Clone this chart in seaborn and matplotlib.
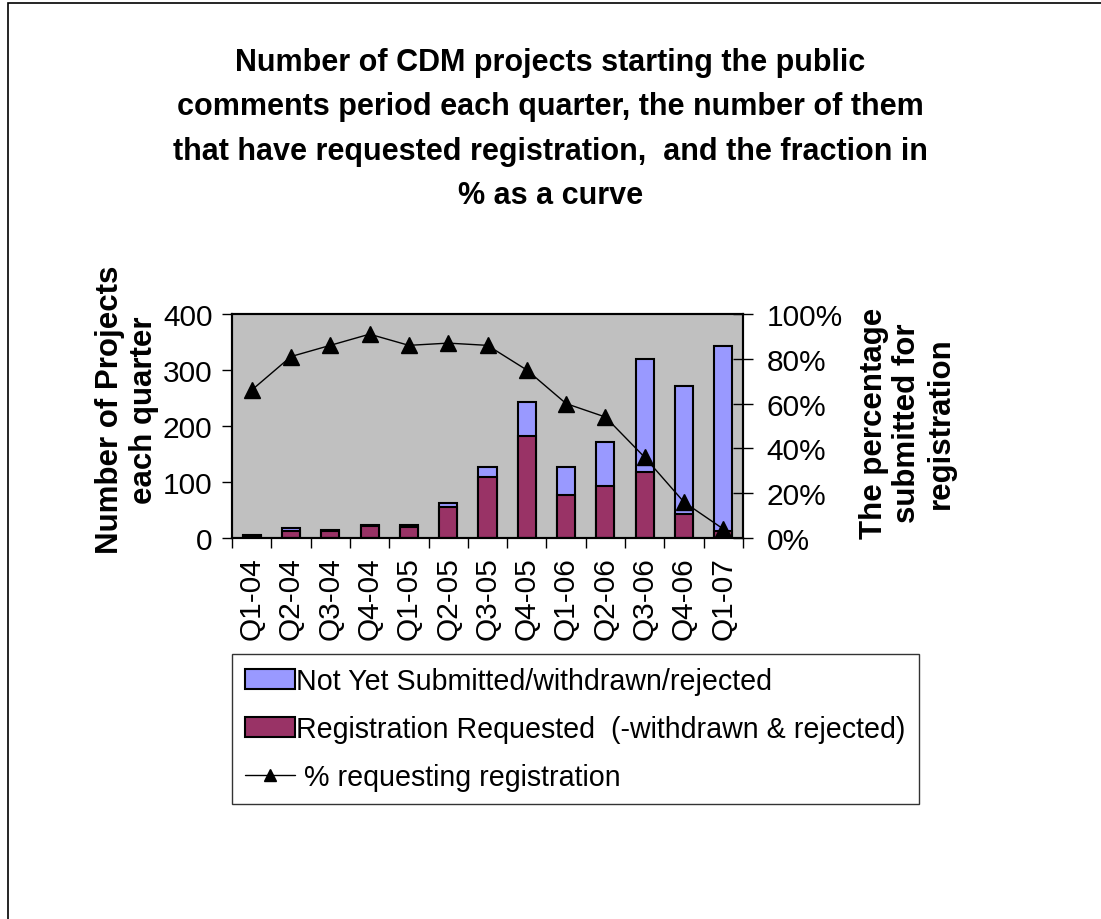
import numpy as np
import pandas as pd
import seaborn as sns
import matplotlib.pyplot as plt
from matplotlib.patches import Rectangle, Patch
from matplotlib.lines import Line2D

# %% Data
quarters = ["Q1-04", "Q2-04", "Q3-04", "Q4-04", "Q1-05", "Q2-05", "Q3-05",
            "Q4-05", "Q1-06", "Q2-06", "Q3-06", "Q4-06", "Q1-07"]
total_projects = [6, 17, 14, 23, 23, 63, 127, 243, 126, 172, 319, 272, 342]
requested = [4, 12, 12, 21, 19, 55, 109, 183, 76, 93, 117, 43, 13]
pct_requesting = [66, 81, 86, 91, 86, 87, 86, 75, 60, 54, 36, 16, 4]

df = pd.DataFrame({"quarter": quarters, "total": total_projects,
                   "requested": requested, "pct": pct_requesting})

# %% Plot
sns.set_theme(style="white")
plt.rcParams["font.family"] = ["Liberation Sans", "DejaVu Sans"]
plt.rcParams["text.color"] = "black"
plt.rcParams["axes.labelcolor"] = "black"
plt.rcParams["xtick.color"] = "black"
plt.rcParams["ytick.color"] = "black"

fig = plt.figure(figsize=(11.01, 9.2), dpi=100)
ax = fig.add_axes([232 / 1101, 1 - 539 / 920, 511 / 1101, 224 / 920])
ax.set_facecolor("#C0C0C0")

blue = "#9999FF"
red = "#993366"

# stacked bars: total (blue) first, then requested (red) from zero over it
sns.barplot(data=df, x="quarter", y="total", color=blue, edgecolor="black",
            linewidth=1.5, width=0.46, saturation=1, ax=ax)
sns.barplot(data=df, x="quarter", y="requested", color=red, edgecolor="black",
            linewidth=1.5, width=0.46, saturation=1, ax=ax)

ax.set_xlim(-0.5, len(quarters) - 0.5)
ax.set_ylim(0, 400)
ax.set_yticks([0, 100, 200, 300, 400])
ax.set_xticks(np.arange(len(quarters)))
ax.set_xticklabels(quarters, rotation=90, fontsize=21.5)
ax.tick_params(axis="x", length=0, pad=13)
ax.set_xticks(np.arange(len(quarters) + 1) - 0.5, minor=True)
ax.tick_params(axis="x", which="minor", length=7, width=1, color="black",
               direction="out", bottom=True)
ax.tick_params(axis="y", labelsize=21.5, length=7, width=1, color="black",
               direction="out", left=True, pad=7)
ax.set_xlabel("")
ax.set_ylabel("")
ax.grid(False)
for s in ax.spines.values():
    s.set_color("black")
    s.set_linewidth(1.5)

# percentage curve on right axis
ax2 = ax.twinx()
ax2.plot(np.arange(len(quarters)), df["pct"], color="black", lw=1,
         marker="^", markersize=12, markerfacecolor="black")
ax2.set_ylim(0, 100)
ax2.set_yticks([0, 20, 40, 60, 80, 100])
ax2.set_yticklabels([f"{v}%" for v in [0, 20, 40, 60, 80, 100]])
ax2.tick_params(axis="y", labelsize=21.5, length=14, width=1, color="black",
                direction="inout", right=True, pad=10)
ax2.grid(False)
for s in ax2.spines.values():
    s.set_color("black")
    s.set_linewidth(1.5)

# axis titles
fig.text(127 / 1101, 1 - 410 / 920, "Number of Projects\neach quarter",
         rotation=90, ha="center", va="center", fontsize=22.5,
         fontweight="bold", linespacing=1.15, multialignment="center")
fig.text(907 / 1101, 1 - 423 / 920, "The percentage\nsubmitted for\nregistration",
         rotation=90, ha="center", va="center", fontsize=22.5,
         fontweight="bold", linespacing=1.15, multialignment="center")

# title
fig.text(0.5, 1 - 48 / 920,
         "Number of CDM projects starting the public\n"
         "comments period each quarter, the number of them\n"
         "that have requested registration,  and the fraction in\n"
         "% as a curve",
         ha="center", va="top", fontsize=22, fontweight="bold", linespacing=1.62)

# legend
handles = [Patch(facecolor=blue, edgecolor="black", linewidth=1.5),
           Patch(facecolor=red, edgecolor="black", linewidth=1.5),
           Line2D([0], [0], color="black", lw=1, marker="^", markersize=9)]
labels = ["Not Yet Submitted/withdrawn/rejected",
          "Registration Requested  (-withdrawn & rejected)",
          " % requesting registration"]
leg = fig.legend(handles, labels, loc="upper left",
                 bbox_to_anchor=(232 / 1101, 1 - 655 / 920), fontsize=20.6,
                 frameon=True, fancybox=False, edgecolor="black",
                 handlelength=1.75, handletextpad=0.05, borderpad=0.45,
                 labelspacing=0.7, borderaxespad=0)
leg.get_frame().set_linewidth(1)

# outer border of the chart area
fig.patches.append(Rectangle((8 / 1101, -0.05), 1.2, 1 - 4 / 920 + 0.05,
                             transform=fig.transFigure, fill=False,
                             edgecolor="black", linewidth=1.2))

plt.savefig("out.png", dpi=100)
